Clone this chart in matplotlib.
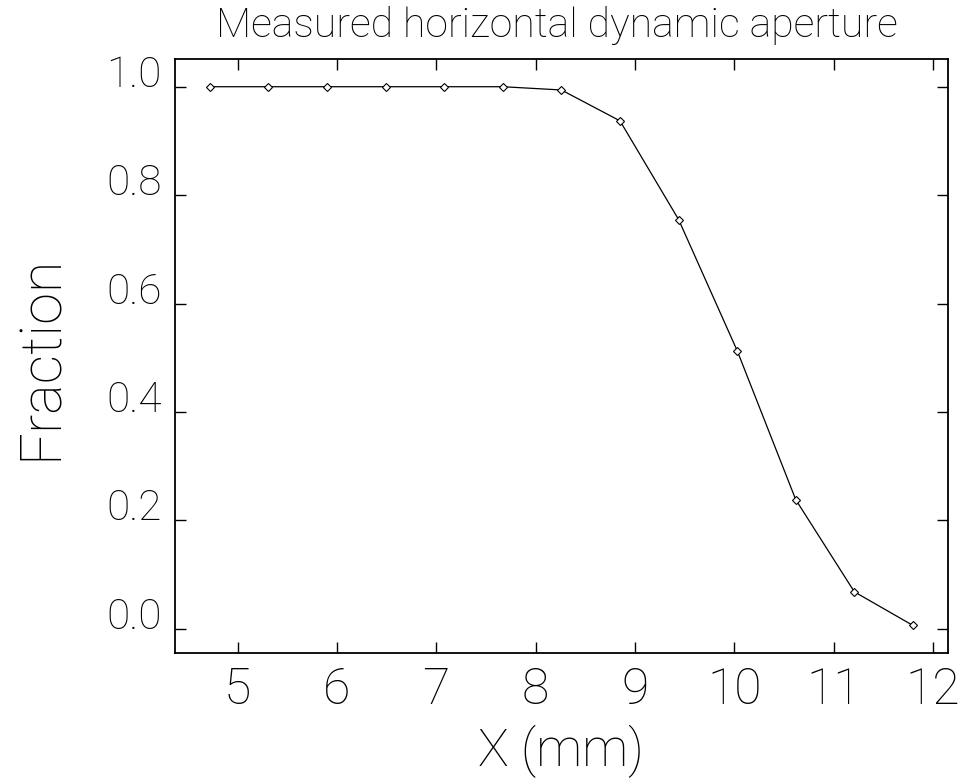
import matplotlib
matplotlib.use("Agg")
import matplotlib.pyplot as plt

# Data
x_mm = [4.72, 5.31, 5.90, 6.49, 7.08, 7.67, 8.26, 8.85, 9.44, 10.03, 10.62, 11.21, 11.80]
fraction = [1.0, 1.0, 1.0, 1.0, 1.0, 1.0, 0.994, 0.937, 0.755, 0.513, 0.238, 0.068, 0.006]
x_ticks = [5, 6, 7, 8, 9, 10, 11, 12]
y_ticks = [0.0, 0.2, 0.4, 0.6, 0.8, 1.0]
y_ticklabels = ["0.0", "0.2", "0.4", "0.6", "0.8", "1.0"]

FONT = ["Roboto", "DejaVu Sans"]
W = "light"

fig = plt.figure(figsize=(9.68, 7.79), dpi=100)
ax = fig.add_axes([175/968, 1-653.3/779, 773.3/968, 594/779])

ax.plot(x_mm, fraction, color="black", lw=0.9, marker="D", markersize=4.5,
        markerfacecolor="white", markeredgecolor="black", markeredgewidth=0.8)

ax.set_xlim(4.369, 12.156)
ax.set_ylim(-0.0454, 1.0506)

ax.set_xticks(x_ticks)
ax.set_xticklabels([str(t) for t in x_ticks], fontsize=36, family=FONT, fontweight=W)
ax.set_yticks(y_ticks)
ax.set_yticklabels(y_ticklabels, fontsize=30.5, family=FONT, fontweight=W)
for lab in ax.get_yticklabels():
    lab.set_verticalalignment("baseline")

ax.tick_params(direction="in", length=8, width=1.0, top=True, right=True, pad=9.4)
for s in ax.spines.values():
    s.set_linewidth(1.3)

fig.text(557/968, 1-37/779, "Measured horizontal dynamic aperture", ha="center",
         va="baseline", fontsize=29.5, family=FONT, fontweight=W)
fig.text(561/968, 1-766/779, "X (mm)", ha="center", va="baseline",
         fontsize=37, family=FONT, fontweight=W)
fig.text(41/968, 1-357.5/779, "Fraction", ha="center", va="center", rotation=90,
         fontsize=41.5, family=FONT, fontweight=W)

fig.savefig("out.png", dpi=100)
